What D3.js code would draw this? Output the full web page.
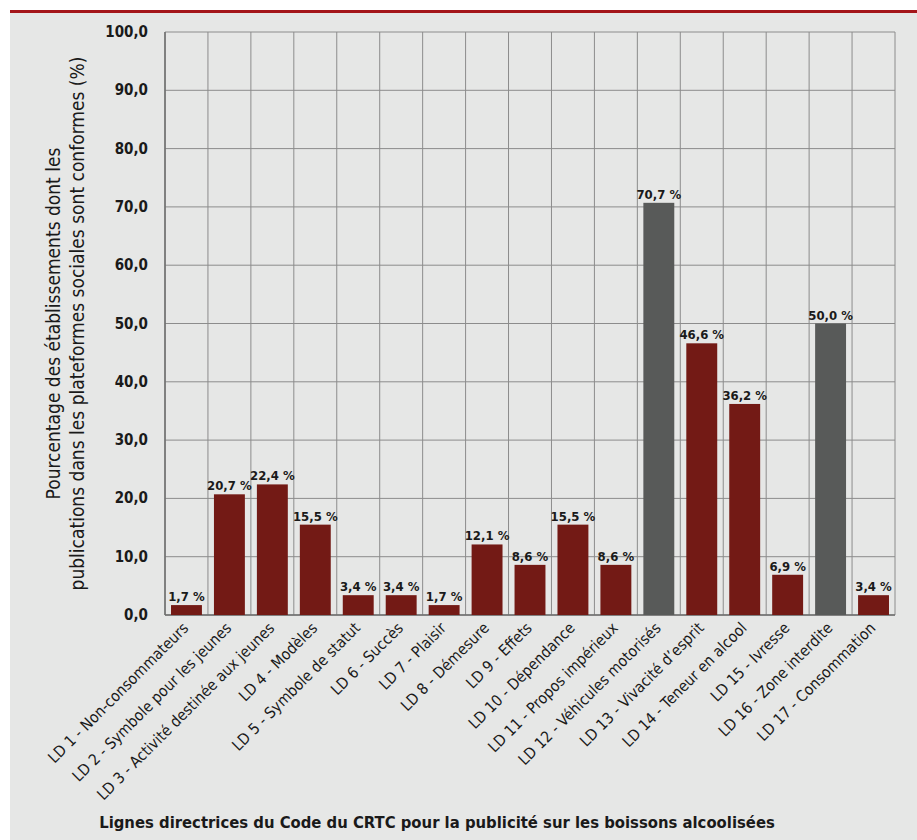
<!DOCTYPE html>
<html>
<head>
<meta charset="utf-8">
<script src="https://cdn.jsdelivr.net/npm/d3@7"></script>
<style>
  body { margin: 0; background: #fff; }
  svg text { font-family: "DejaVu Sans Condensed", "Liberation Sans Narrow", sans-serif; fill: #1a1a1a; }
</style>
</head>
<body>
<svg id="chart" width="917" height="840"></svg>
<script>
// categories (CRTC guidelines) and the share of compliant posts
const categories = [
  "LD 1 - Non-consommateurs", "LD 2 - Symbole pour les jeunes", "LD 3 - Activité destinée aux jeunes",
  "LD 4 - Modèles", "LD 5 - Symbole de statut", "LD 6 - Succès", "LD 7 - Plaisir", "LD 8 - Démesure",
  "LD 9 - Effets", "LD 10 - Dépendance", "LD 11 - Propos impérieux", "LD 12 - Véhicules motorisés",
  "LD 13 - Vivacité d’esprit", "LD 14 - Teneur en alcool", "LD 15 - Ivresse", "LD 16 - Zone interdite",
  "LD 17 - Consommation"
];
const values = [1.7, 20.7, 22.4, 15.5, 3.4, 3.4, 1.7, 12.1, 8.6, 15.5, 8.6, 70.7, 46.6, 36.2, 6.9, 50.0, 3.4];
// grey bars are the two highlighted guidelines
const highlighted = ["LD 12 - Véhicules motorisés", "LD 16 - Zone interdite"];
const yTicks = [0, 10, 20, 30, 40, 50, 60, 70, 80, 90, 100];

const svg = d3.select('#chart');
const fmt = v => d3.format('.1f')(v).replace('.', ',');

// background + red rule on top
svg.append('rect').attr('x', 10).attr('y', 12).attr('width', 907).attr('height', 828).style('fill', '#e6e7e6');
svg.append('rect').attr('x', 10).attr('y', 10).attr('width', 907).attr('height', 3).style('fill', '#a4161a');

const pLeft = 165, pRight = 895, pTop = 32, pBottom = 615;

const x = d3.scaleBand().domain(categories).range([pLeft, pRight]).paddingInner(0.28).paddingOuter(0.14);
const y = d3.scaleLinear().domain([0, 100]).range([pBottom, pTop]);

// horizontal grid
svg.append('g').selectAll('line').data(yTicks).enter().append('line')
  .attr('x1', pLeft).attr('x2', pRight)
  .attr('y1', d => y(d)).attr('y2', d => y(d))
  .style('stroke', '#8c8c8c').style('stroke-width', 1);

// vertical grid at category boundaries
const bounds = d3.range(categories.length + 1).map(i => pLeft + i * (pRight - pLeft) / categories.length);
svg.append('g').selectAll('line').data(bounds).enter().append('line')
  .attr('x1', d => d).attr('x2', d => d)
  .attr('y1', pTop).attr('y2', pBottom)
  .style('stroke', '#8c8c8c').style('stroke-width', 1);

// axis lines
svg.append('line').attr('x1', pLeft).attr('x2', pLeft).attr('y1', pTop).attr('y2', pBottom)
  .style('stroke', '#6e6e6e').style('stroke-width', 1.5);
svg.append('line').attr('x1', pLeft).attr('x2', pRight).attr('y1', pBottom).attr('y2', pBottom)
  .style('stroke', '#6e6e6e').style('stroke-width', 1.5);

// y tick labels
svg.append('g').selectAll('text').data(yTicks).enter().append('text')
  .attr('x', 148).attr('y', d => y(d) + 5)
  .attr('text-anchor', 'end')
  .style('font-size', '15px').style('font-weight', 'bold')
  .text(d => fmt(d));

// bars
svg.append('g').selectAll('rect').data(values).enter().append('rect')
  .attr('x', (d, i) => x(categories[i]))
  .attr('y', d => y(d))
  .attr('width', x.bandwidth())
  .attr('height', d => pBottom - y(d))
  .style('fill', (d, i) => highlighted.includes(categories[i]) ? '#585a59' : '#731a15');

// value labels
svg.append('g').selectAll('text').data(values).enter().append('text')
  .attr('x', (d, i) => x(categories[i]) + x.bandwidth() / 2)
  .attr('y', d => y(d) - 4)
  .attr('text-anchor', 'middle')
  .style('font-size', '13px').style('font-weight', 'bold')
  .text(d => fmt(d) + ' %');

// category labels, rotated
svg.append('g').selectAll('text').data(categories).enter().append('text')
  .attr('transform', d => `translate(${x(d) + x.bandwidth() / 2 + 3},${pBottom + 14}) rotate(-45)`)
  .attr('text-anchor', 'end')
  .style('font-size', '15.5px')
  .text(d => d);

// y title
const yt = svg.append('text')
  .attr('transform', `translate(60,${(pTop + pBottom) / 2}) rotate(-90)`)
  .attr('text-anchor', 'middle')
  .style('font-size', '19px');
yt.append('tspan').attr('x', 0).attr('dy', 0).text('Pourcentage des établissements dont les');
yt.append('tspan').attr('x', 0).attr('dy', 24).text('publications dans les plateformes sociales sont conformes (%)');

// x title
svg.append('text')
  .attr('x', 437).attr('y', 828)
  .attr('text-anchor', 'middle')
  .style('font-size', '16.5px').style('font-weight', 'bold')
  .text('Lignes directrices du Code du CRTC pour la publicité sur les boissons alcoolisées');
</script>
</body>
</html>
